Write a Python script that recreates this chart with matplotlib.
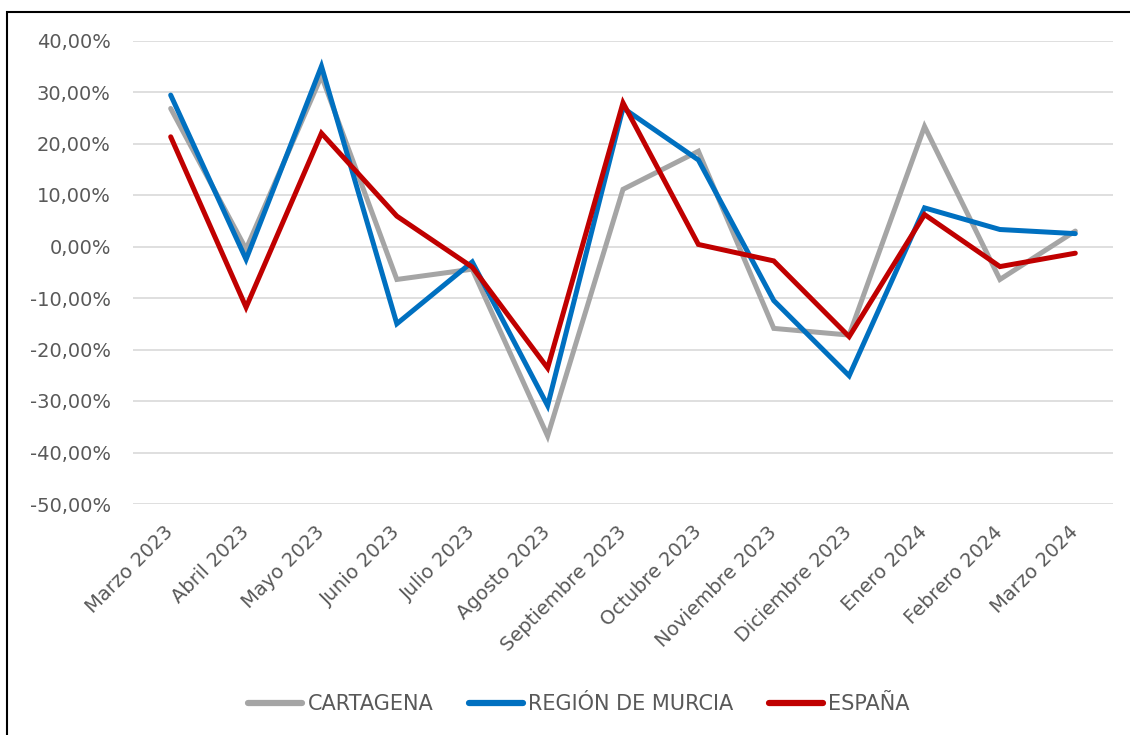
import matplotlib
matplotlib.use("Agg")
import matplotlib.pyplot as plt
from matplotlib.ticker import FuncFormatter, MultipleLocator
from matplotlib.patches import Rectangle

months = ["Marzo 2023", "Abril 2023", "Mayo 2023", "Junio 2023", "Julio 2023",
          "Agosto 2023", "Septiembre 2023", "Octubre 2023", "Noviembre 2023",
          "Diciembre 2023", "Enero 2024", "Febrero 2024", "Marzo 2024"]

cartagena = [26.8, -0.5, 33.1, -6.4, -4.4, -36.8, 11.1, 18.5, -15.9, -17.2, 23.3, -6.4, 3.0]
murcia = [29.4, -2.5, 35.0, -15.0, -3.0, -30.9, 26.9, 16.8, -10.5, -25.1, 7.5, 3.3, 2.5]
espana = [21.3, -11.8, 22.0, 5.9, -4.0, -23.6, 27.9, 0.4, -2.8, -17.5, 6.2, -3.9, -1.3]

series_names = ["CARTAGENA", "REGIÓN DE MURCIA", "ESPAÑA"]
series_colors = ["#a5a5a5", "#0070c0", "#c00000"]

W, H = 1130, 735
fig = plt.figure(figsize=(W / 100, H / 100), dpi=100)
ax = fig.add_axes([133 / W, 1 - 504 / H, (1113 - 133) / W, (504 - 40.5) / H])

x = list(range(len(months)))
for vals, name, col in zip([cartagena, murcia, espana], series_names, series_colors):
    ax.plot(x, vals, color=col, lw=3.6, label=name, solid_capstyle="round",
            solid_joinstyle="miter", zorder=3)

ax.set_xlim(-0.5, len(months) - 0.5)
ax.set_ylim(-50, 40)
ax.yaxis.set_major_locator(MultipleLocator(10))
ax.yaxis.set_major_formatter(FuncFormatter(lambda v, p: f"{v:.2f}%".replace(".", ",")))
ax.grid(axis="y", color="#d9d9d9", lw=1.2, zorder=0)
ax.set_axisbelow(True)
for s in ax.spines.values():
    s.set_visible(False)

ax.set_xticks(x)
ax.set_xticklabels(months, rotation=45, ha="right", va="center",
                   rotation_mode="anchor", fontsize=14, color="#595959")
ax.tick_params(axis="x", length=0, pad=18)
ax.tick_params(axis="y", length=0, pad=16, labelsize=14, labelcolor="#595959")

leg = fig.legend(loc="center", bbox_to_anchor=(579 / W, 1 - 704 / H), ncol=3,
                 frameon=False, fontsize=15, handlelength=2.6, handletextpad=0.25,
                 columnspacing=1.7, labelcolor="#595959")
for line in leg.get_lines():
    line.set_linewidth(4.5)
    line.set_solid_capstyle("round")

fig.patches.append(Rectangle((7 / W, -0.1), 1.5, 1 - 11.5 / H + 0.1,
                             transform=fig.transFigure, fill=False,
                             edgecolor="black", lw=1.5, zorder=10))

fig.savefig("out.png", dpi=100)
